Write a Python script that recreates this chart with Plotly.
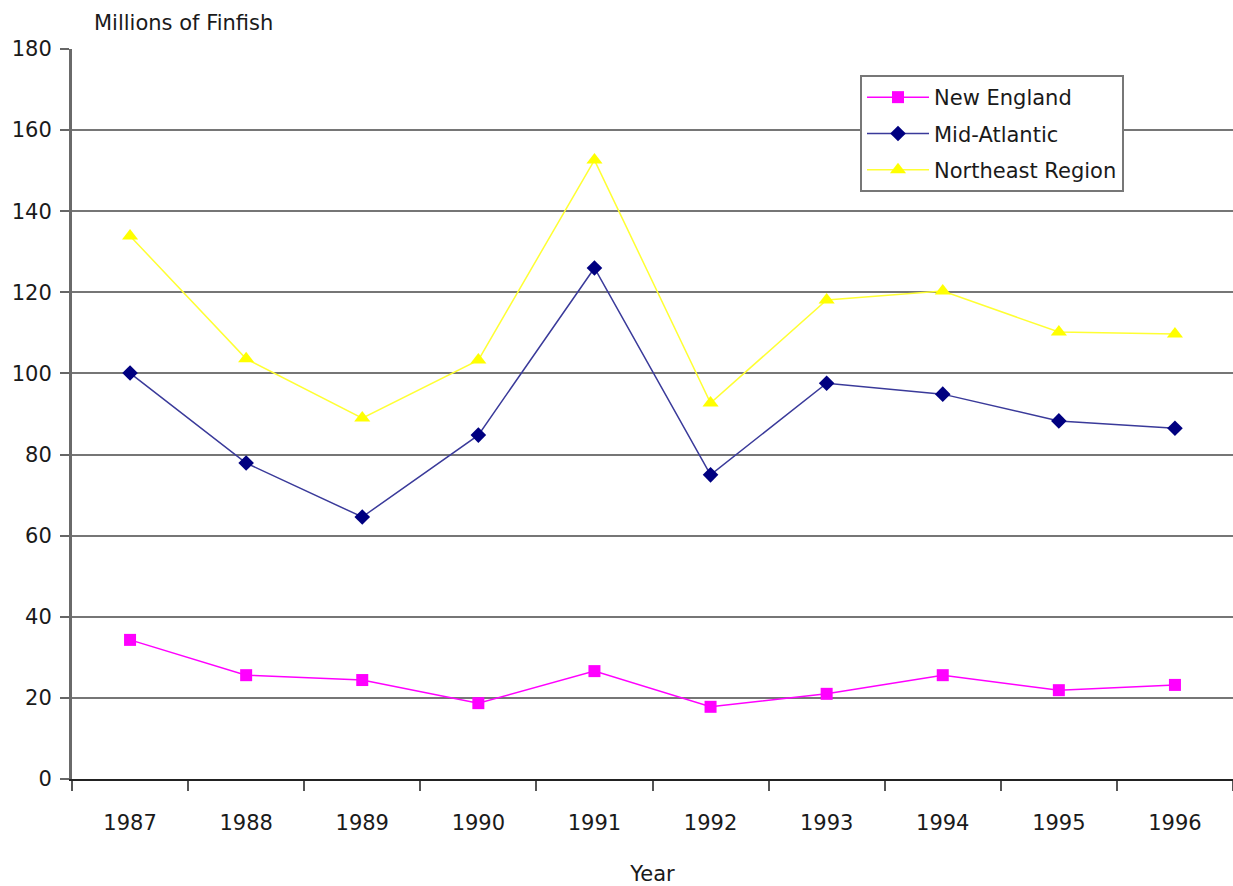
import plotly.graph_objects as go

years = ["1987", "1988", "1989", "1990", "1991", "1992", "1993", "1994", "1995", "1996"]
new_england = [34.3, 25.6, 24.4, 18.7, 26.6, 17.8, 21.0, 25.6, 21.9, 23.2]
mid_atlantic = [100.1, 77.9, 64.6, 84.8, 126.0, 75.0, 97.6, 94.9, 88.3, 86.5]
northeast = [133.9, 103.6, 89.0, 103.3, 152.6, 92.7, 118.1, 120.3, 110.2, 109.7]
y_ticks = [0, 20, 40, 60, 80, 100, 120, 140, 160, 180]

font_family = "DejaVu Sans, Verdana, sans-serif"
text_color = "#1a1a1a"
fsize = 21

fig = go.Figure()
fig.add_trace(go.Scatter(
    x=years, y=new_england, name="New England", mode="lines+markers",
    line=dict(color="#FF00FF", width=1.5),
    marker=dict(symbol="square", size=12, color="#FF00FF"),
    legendgroup="a",
))
fig.add_trace(go.Scatter(
    x=years, y=mid_atlantic, name="Mid-Atlantic", mode="lines+markers",
    line=dict(color="#3A3A9A", width=1.5),
    marker=dict(symbol="diamond", size=12, color="#000080"),
    legendgroup="b",
))
fig.add_trace(go.Scatter(
    x=years, y=northeast, name="Northeast Region", mode="lines+markers",
    line=dict(color="#FFFF33", width=1.5),
    marker=dict(symbol="triangle-up", size=14, color="#FFFF00"),
    legendgroup="c",
))

fig.update_layout(
    width=1233, height=886,
    margin=dict(l=72, r=0, t=49, b=107),
    paper_bgcolor="white", plot_bgcolor="white",
    font=dict(family=font_family, size=fsize, color=text_color),
    showlegend=True,
    legend=dict(
        x=(860 - 72) / 1161, y=(779 - 75) / 730, xanchor="left", yanchor="top",
        bgcolor="white", bordercolor="#777777", borderwidth=2,
        font=dict(family=font_family, size=fsize, color=text_color),
        tracegroupgap=6, traceorder="grouped", itemwidth=62,
    ),
    xaxis=dict(
        type="category", range=[-0.5, 9.5],
        showgrid=False, showline=True, linecolor="#222222", linewidth=2,
        ticks="outside", ticklen=10, tickcolor="#555555", tickwidth=2,
        tickson="boundaries",
        tickfont=dict(size=fsize, color=text_color),
        ticklabelstandoff=24,
        title=dict(text="Year", font=dict(size=fsize, color=text_color), standoff=32),
        zeroline=False,
    ),
    yaxis=dict(
        range=[0, 180], tickvals=y_ticks,
        showgrid=True, gridcolor="#767676", gridwidth=2,
        showline=True, linecolor="#6a6a6a", linewidth=3,
        ticks="outside", ticklen=9, tickcolor="#666666", tickwidth=2,
        tickfont=dict(size=fsize, color=text_color),
        zeroline=False,
        ticklabelstandoff=4,
    ),
)

fig.add_annotation(
    text="Millions of Finfish", xref="paper", yref="paper",
    x=(92 - 72) / 1161, y=1.0, xanchor="left", yanchor="bottom", yshift=12,
    showarrow=False, font=dict(family=font_family, size=fsize, color=text_color),
)

fig.write_html("out.html")
